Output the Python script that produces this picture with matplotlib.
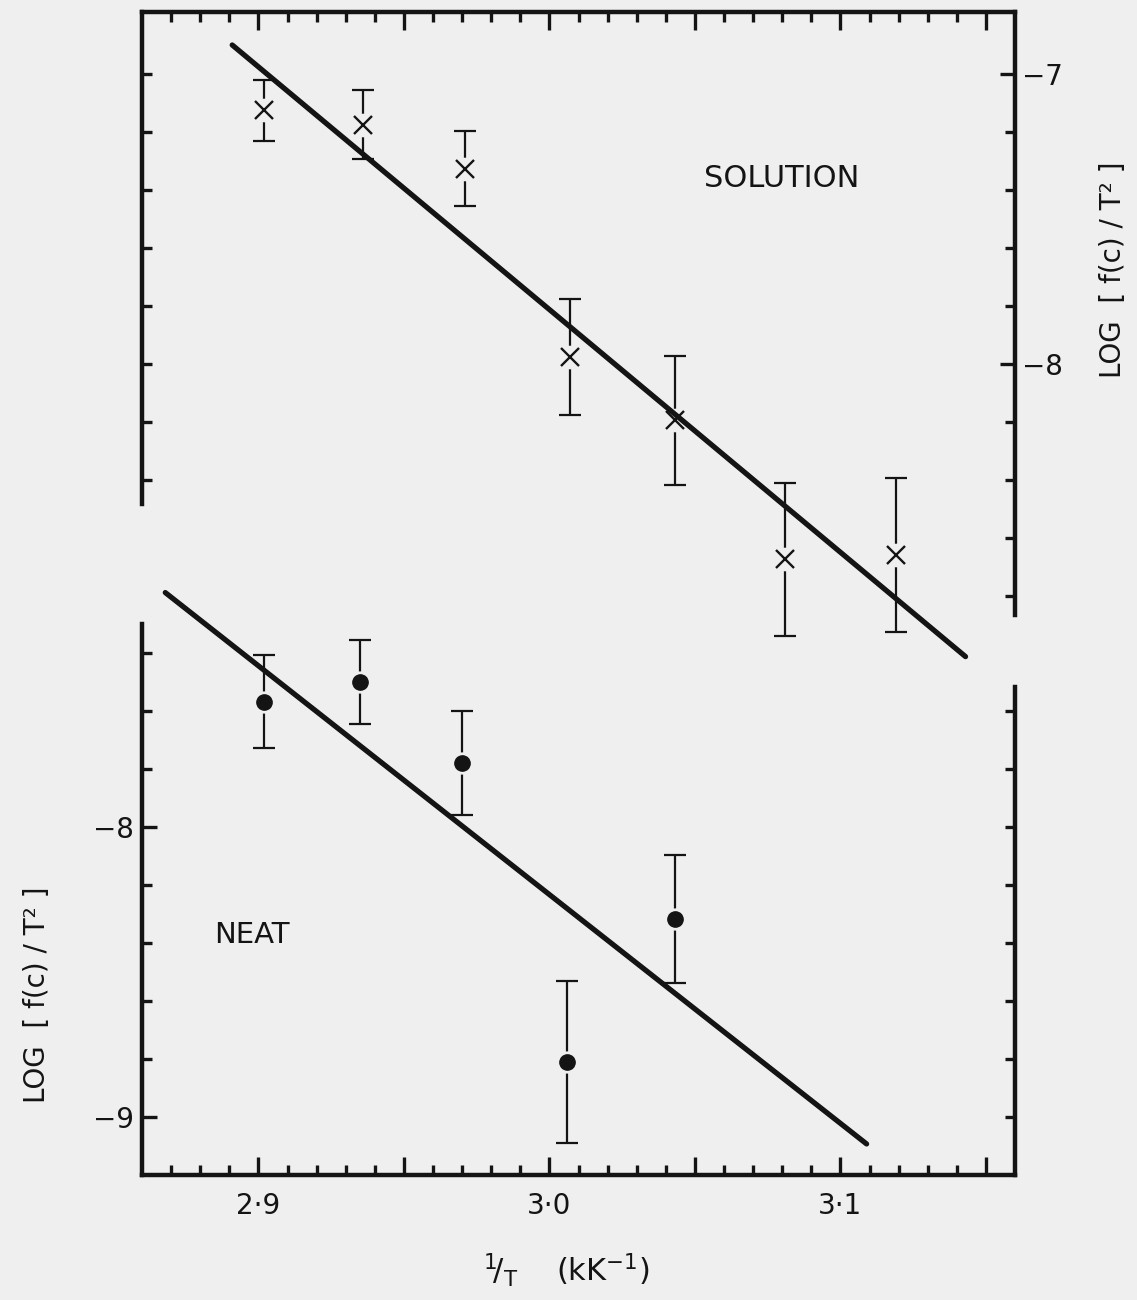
import numpy as np
import matplotlib.pyplot as plt
from matplotlib.ticker import FixedLocator

# solution points, read on the right-hand scale
sol_x = [2.902, 2.936, 2.971, 3.007, 3.043, 3.081, 3.119]
sol_y = [-7.125, -7.174, -7.326, -7.976, -8.194, -8.674, -8.660]
sol_err = [0.105, 0.12, 0.13, 0.20, 0.222, 0.264, 0.265]
sol_fit_x = [2.891, 3.143]
sol_fit_y = [-6.899, -9.010]

# neat points, read on the left-hand scale
neat_x = [2.902, 2.935, 2.970, 3.006, 3.043]
neat_y = [-7.566, -7.500, -7.779, -8.810, -8.317]
neat_err = [0.16, 0.145, 0.18, 0.28, 0.222]
neat_fit_x = [2.868, 3.109]
neat_fit_y = [-7.190, -9.093]

x_labels = ['2·9', '', '3·0', '', '3·1', '']
x_major = [2.90, 2.95, 3.00, 3.05, 3.10, 3.15]
x_minor = np.round(np.arange(2.87, 3.155, 0.01), 2)

BG = '#efefef'
INK = '#141414'
ylabel = 'LOG  [ f(c) / T² ]'

fig = plt.figure(figsize=(11.37, 13.0), dpi=100, facecolor=BG)
ax = fig.add_axes([0.1249, 0.0962, 0.7678, 0.8946])
ax.set_facecolor(BG)
ax_nr = ax.twinx()   # right-hand ticks of the lower (neat) scale
ax_s = ax.twinx()    # solution scale, labelled on the right
ax_sl = ax.twinx()   # left-hand ticks of the upper (solution) scale

ax.set_xlim(2.86, 3.16)
ax.set_ylim(-9.2, -5.186)
ax_nr.set_ylim(-9.2, -5.186)
ax_s.set_ylim(-10.799, -6.785)
ax_sl.set_ylim(-10.799, -6.785)

# x axis, ticks inside on top and bottom
ax.xaxis.set_major_locator(FixedLocator(x_major))
ax.set_xticklabels(x_labels)
ax.xaxis.set_minor_locator(FixedLocator(x_minor))
ax.tick_params(axis='x', which='both', direction='in', top=True, bottom=True,
               width=2.4, color=INK, labelsize=20, pad=12, labelcolor=INK)
ax.tick_params(axis='x', which='major', length=13)
ax.tick_params(axis='x', which='minor', length=7)

# lower scale, left side
ax.yaxis.tick_left()
ax.set_yticks([-9, -8], ['−9', '−8'])
ax.yaxis.set_minor_locator(FixedLocator(np.round(np.arange(-9.0, -7.35, 0.2), 1)))
ax.tick_params(axis='y', which='both', direction='in', width=2.4, color=INK,
               labelsize=20, pad=6, labelcolor=INK)
ax.tick_params(axis='y', which='major', length=11)
ax.tick_params(axis='y', which='minor', length=7)

# lower scale, right side
ax_nr.set_yticks([])
ax_nr.yaxis.set_minor_locator(FixedLocator(np.round(np.arange(-9.0, -7.55, 0.2), 1)))
ax_nr.tick_params(axis='y', which='minor', direction='in', width=2.4, length=7, color=INK)

# upper scale, right side
ax_s.set_yticks([-8, -7], ['−8', '−7'])
ax_s.yaxis.set_minor_locator(FixedLocator(np.round(np.arange(-8.8, -6.95, 0.2), 1)))
ax_s.tick_params(axis='y', which='both', direction='in', width=2.4, color=INK,
                 labelsize=20, pad=5, labelcolor=INK)
ax_s.tick_params(axis='y', which='major', length=11)
ax_s.tick_params(axis='y', which='minor', length=7)

# upper scale, left side
ax_sl.yaxis.tick_left()
ax_sl.set_yticks([])
ax_sl.yaxis.set_minor_locator(FixedLocator(np.round(np.arange(-8.4, -6.95, 0.2), 1)))
ax_sl.tick_params(axis='y', which='minor', direction='in', width=2.4, length=7, color=INK)

# broken frame
for a in (ax, ax_nr, ax_s, ax_sl):
    for sp in a.spines.values():
        sp.set_visible(False)
        sp.set_linewidth(3.2)
        sp.set_color(INK)
for side in ('top', 'bottom', 'left', 'right'):
    ax.spines[side].set_visible(True)
ax.spines['left'].set_bounds(-9.2, -7.30)
ax.spines['right'].set_bounds(-9.2, -7.517)
ax_s.spines['left'].set_visible(True)
ax_s.spines['right'].set_visible(True)
ax_s.spines['left'].set_bounds(-8.484, -6.785)
ax_s.spines['right'].set_bounds(-8.865, -6.785)

# solution data
ax_s.errorbar(sol_x, sol_y, yerr=sol_err, fmt='none', ecolor=INK,
              elinewidth=1.6, capsize=8, capthick=1.6, zorder=2)
ax_s.plot(sol_x, sol_y, 'o', ms=17, mfc=BG, mec='none', zorder=3)
ax_s.plot(sol_x, sol_y, 'x', ms=13, mew=1.7, color=INK, zorder=4)
ax_s.plot(sol_fit_x, sol_fit_y, '-', lw=3.8, color=INK,
          solid_capstyle='round', zorder=5)

# neat data
ax.errorbar(neat_x, neat_y, yerr=neat_err, fmt='none', ecolor=INK,
            elinewidth=1.6, capsize=8, capthick=1.6, zorder=2)
ax.plot(neat_x, neat_y, 'o', ms=16, mfc=BG, mec='none', zorder=3)
ax.plot(neat_x, neat_y, 'o', ms=11, color=INK, zorder=4)
ax.plot(neat_fit_x, neat_fit_y, '-', lw=3.8, color=INK,
        solid_capstyle='round', zorder=5)

ax_s.text(0.733, 0.857, 'SOLUTION', transform=ax_s.transAxes, fontsize=22,
          ha='center', va='center', color=INK)
ax.text(0.126, 0.206, 'NEAT', transform=ax.transAxes, fontsize=21,
        ha='center', va='center', color=INK)

fig.text(37 / 1137, 1 - 995 / 1300, ylabel, rotation=90, fontsize=20,
         ha='center', va='center', color=INK)
fig.text(1113 / 1137, 1 - 270 / 1300, ylabel, rotation=90, fontsize=20,
         ha='center', va='center', color=INK)
fig.text(566 / 1137, 1 - 1270 / 1300, r'$^{1}\!/_{\mathrm{T}}$    (kK$^{-1}$)',
         fontsize=22, ha='center', va='center', color=INK)

fig.savefig('out.png', dpi=100, facecolor=BG)
